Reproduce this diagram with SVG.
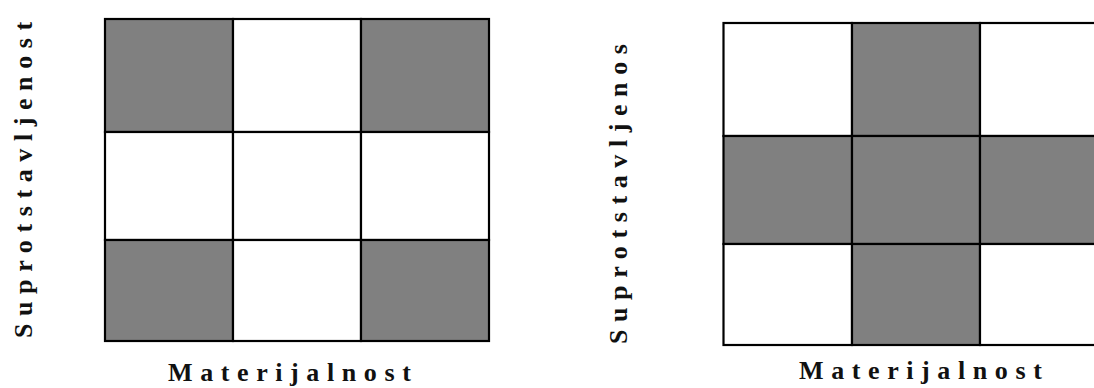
<svg xmlns="http://www.w3.org/2000/svg" width="1094" height="388" viewBox="0 0 1094 388">
<style>
.c{stroke:#000;stroke-width:2.2}
.g{fill:#808080}
.w{fill:#fff}
.t{font-family:"Liberation Serif",serif;font-weight:bold;font-size:26px;letter-spacing:7.6px;fill:#111}
</style>
<rect width="1094" height="388" fill="#fff"/>
<g id="grid-left">
<rect class="c g" x="105" y="19" width="128" height="113"/>
<rect class="c w" x="233" y="19" width="128" height="113"/>
<rect class="c g" x="361" y="19" width="128" height="113"/>
<rect class="c w" x="105" y="132" width="128" height="108"/>
<rect class="c w" x="233" y="132" width="128" height="108"/>
<rect class="c w" x="361" y="132" width="128" height="108"/>
<rect class="c g" x="105" y="240" width="128" height="101"/>
<rect class="c w" x="233" y="240" width="128" height="101"/>
<rect class="c g" x="361" y="240" width="128" height="101"/>
</g>
<g id="grid-right">
<rect class="c w" x="723.5" y="23" width="128.5" height="113"/>
<rect class="c g" x="852" y="23" width="128" height="113"/>
<rect class="c w" x="980" y="23" width="128" height="113"/>
<rect class="c g" x="723.5" y="136" width="128.5" height="108"/>
<rect class="c g" x="852" y="136" width="128" height="108"/>
<rect class="c g" x="980" y="136" width="128" height="108"/>
<rect class="c w" x="723.5" y="244" width="128.5" height="101"/>
<rect class="c g" x="852" y="244" width="128" height="101"/>
<rect class="c w" x="980" y="244" width="128" height="101"/>
</g>
<g id="labels">
<text class="t" x="168" y="381">Materijalnost</text>
<text class="t" x="799" y="379">Materijalnost</text>
<text class="t" transform="translate(32,338) rotate(-90)">Suprotstavljenost</text>
<text class="t" transform="translate(627,344) rotate(-90)">Suprotstavljenos</text>
</g>
</svg>
